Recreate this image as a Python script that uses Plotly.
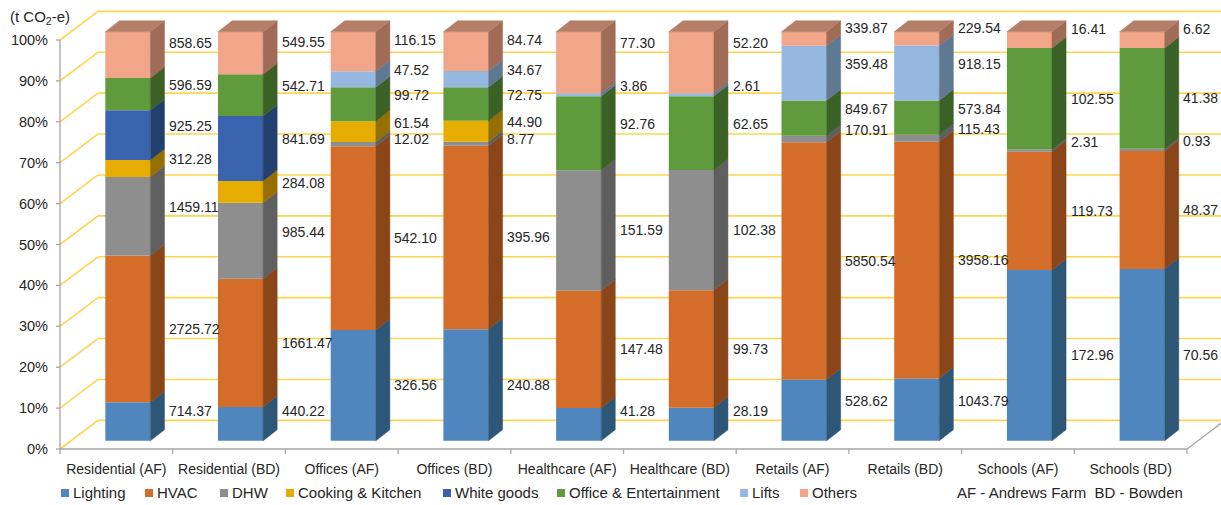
import plotly.graph_objects as go

# ---------------- data ----------------
categories = ["Residential (AF)", "Residential (BD)", "Offices (AF)", "Offices (BD)",
              "Healthcare (AF)", "Healthcare (BD)", "Retails (AF)", "Retails (BD)",
              "Schools (AF)", "Schools (BD)"]
series_names = ["Lighting", "HVAC", "DHW", "Cooking & Kitchen", "White goods",
                "Office & Entertainment", "Lifts", "Others"]

lighting = [714.37, 440.22, 326.56, 240.88, 41.28, 28.19, 528.62, 1043.79, 172.96, 70.56]
hvac = [2725.72, 1661.47, 542.10, 395.96, 147.48, 99.73, 5850.54, 3958.16, 119.73, 48.37]
dhw = [1459.11, 985.44, 12.02, 8.77, 151.59, 102.38, 170.91, 115.43, 2.31, 0.93]
cooking = [312.28, 284.08, 61.54, 44.90, 0, 0, 0, 0, 0, 0]
white_goods = [925.25, 841.69, 0, 0, 0, 0, 0, 0, 0, 0]
office_ent = [596.59, 542.71, 99.72, 72.75, 92.76, 62.65, 849.67, 573.84, 102.55, 41.38]
lifts = [0, 0, 47.52, 34.67, 3.86, 2.61, 359.48, 918.15, 0, 0]
others = [858.65, 549.55, 116.15, 84.74, 77.30, 52.20, 339.87, 229.54, 16.41, 6.62]

# The Retails (AF) column in the reference is drawn with these shares (%)
retails_af_plotted_share = [15.0, 58.0, 1.6, 0, 0, 8.6, 13.4, 3.4]

yticks = [0, 10, 20, 30, 40, 50, 60, 70, 80, 90, 100]

values = [lighting, hvac, dhw, cooking, white_goods, office_ent, lifts, others]

# ---------------- style ----------------
front_colors = ["#4F86BE", "#D36D29", "#8E8E8E", "#E6AC00", "#3A63AD", "#5F9A3C", "#96B7E0", "#F1A689"]
side_colors = ["#2E5677", "#8A4519", "#5F5F5F", "#957000", "#22406E", "#3B6126", "#5F7993", "#A06B57"]
top_colors = ["#6E9CCB", "#DC8A55", "#A9A9A9", "#EBC040", "#6182C0", "#7FAF62", "#B0C9E8", "#B57E67"]
grid_color = "#FFD44F"
axis_gray = "#A6A6A6"
text_color = "#262626"
FONT = "Liberation Sans, Arial, sans-serif"

PX_CAT = 112.7      # pixels per category
PX_PCT = 4.09       # pixels per percent
ML, MT, MB = 53, 0, 48
W, H = 1221, 505
plot_w = W - ML
plot_h = H - MT - MB
zero_px = 449       # pixel row of 0 %

x_lo = -0.5 - (60 - ML) / PX_CAT
x_hi = x_lo + plot_w / PX_CAT
y_lo = -(MT + plot_h - zero_px) / PX_PCT
y_hi = y_lo + plot_h / PX_PCT

FRONT_X0, FRONT_W = -0.098, 0.40
DEPTH_DX, DEPTH_DY = 0.125, 2.7
BASE_OFF = 2.0
WALL_DX, WALL_DY = 0.337, 7.0

n = len(categories)
ns = len(series_names)

# shares per category
share = [[0.0] * n for _ in range(ns)]
for j in range(n):
    col = [values[k][j] for k in range(ns)]
    if categories[j] == "Retails (AF)":
        sh = retails_af_plotted_share
    else:
        tot = sum(col)
        sh = [v / tot * 100 for v in col]
    for k in range(ns):
        share[k][j] = sh[k]

bottom = [[0.0] * n for _ in range(ns)]
for j in range(n):
    acc = 0.0
    for k in range(ns):
        bottom[k][j] = acc
        acc += share[k][j]

fig = go.Figure()

# front faces (bars)
for k in range(ns):
    xs, ys, bs = [], [], []
    for j in range(n):
        if values[k][j] > 0:
            xs.append(j + FRONT_X0 + FRONT_W / 2)
            ys.append(share[k][j])
            bs.append(bottom[k][j] + BASE_OFF)
    fig.add_trace(go.Bar(x=xs, y=ys, base=bs, width=FRONT_W, marker_color=front_colors[k],
                         marker_line_width=0, showlegend=False, hoverinfo="skip", name=series_names[k]))

# side faces
for k in range(ns):
    px_, py_ = [], []
    for j in range(n):
        if values[k][j] > 0:
            x1 = j + FRONT_X0 + FRONT_W
            b = bottom[k][j] + BASE_OFF
            t = b + share[k][j]
            px_ += [x1, x1 + DEPTH_DX, x1 + DEPTH_DX, x1, x1, None]
            py_ += [b, b + DEPTH_DY, t + DEPTH_DY, t, b, None]
    fig.add_trace(go.Scatter(x=px_, y=py_, mode="lines", fill="toself", fillcolor=side_colors[k],
                             line=dict(width=0.5, color=side_colors[k]), showlegend=False, hoverinfo="skip"))

# top faces (of top-most segment)
for j in range(n):
    ktop = max(k for k in range(ns) if values[k][j] > 0)
    x0 = j + FRONT_X0
    x1 = x0 + FRONT_W
    t = bottom[ktop][j] + share[ktop][j] + BASE_OFF
    fig.add_trace(go.Scatter(x=[x0, x1, x1 + DEPTH_DX, x0 + DEPTH_DX, x0],
                             y=[t, t, t + DEPTH_DY, t + DEPTH_DY, t], mode="lines", fill="toself",
                             fillcolor=top_colors[ktop], line=dict(width=0.5, color=top_colors[ktop]),
                             showlegend=False, hoverinfo="skip"))

shapes = []
# back wall gridlines and side-wall diagonals
for p in yticks:
    shapes.append(dict(type="line", xref="x", yref="y", x0=-0.5 + WALL_DX, x1=x_hi + 1,
                       y0=p + WALL_DY, y1=p + WALL_DY, line=dict(color=grid_color, width=1.6), layer="below"))
    shapes.append(dict(type="line", xref="x", yref="y", x0=-0.5, x1=-0.5 + WALL_DX,
                       y0=p, y1=p + WALL_DY, line=dict(color=grid_color, width=1.6), layer="below"))
# floor front edge and right edge
shapes.append(dict(type="line", xref="x", yref="y", x0=-0.5, x1=n - 0.5, y0=0, y1=0,
                   line=dict(color=axis_gray, width=1.3), layer="below"))
shapes.append(dict(type="line", xref="x", yref="y", x0=n - 0.5, x1=n - 0.5 + WALL_DX, y0=0, y1=WALL_DY,
                   line=dict(color=axis_gray, width=1.3), layer="below"))
# y axis line and ticks
shapes.append(dict(type="line", xref="x", yref="y", x0=-0.5, x1=-0.5, y0=0, y1=100,
                   line=dict(color=axis_gray, width=1.3), layer="below"))
for p in yticks:
    shapes.append(dict(type="line", xref="x", yref="y", x0=-0.5 - 4 / PX_CAT, x1=-0.5, y0=p, y1=p,
                       line=dict(color=axis_gray, width=1.3)))
# x ticks at category boundaries
for j in range(n + 1):
    shapes.append(dict(type="line", xref="x", yref="y", x0=j - 0.5, x1=j - 0.5, y0=0, y1=-5 / PX_PCT,
                       line=dict(color=axis_gray, width=1.3)))

annotations = []
# data labels
GAP = 4.0
for j in range(n):
    ks = [k for k in range(ns) if values[k][j] > 0]
    ktop = ks[-1]
    pos = {}
    for k in ks:
        c = bottom[k][j] + share[k][j] / 2
        p = c if share[k][j] >= 20 else c + 2.2
        if k == ktop:
            p = max(c + 2.7, 97.3)
        pos[k] = max(p, 7.3)
    order = sorted(ks, key=lambda k: -pos[k])
    for i in range(1, len(order)):
        if pos[order[i]] > pos[order[i - 1]] - GAP:
            pos[order[i]] = pos[order[i - 1]] - GAP
    for k in ks:
        annotations.append(dict(x=j + 0.45, y=pos[k] + BASE_OFF, xref="x", yref="y",
                                text=f"{values[k][j]:.2f}", showarrow=False, xanchor="left",
                                yanchor="middle", font=dict(size=14, color=text_color, family=FONT)))


def pxx(px):
    return (px - ML) / plot_w


def pxy(py):
    return (MT + plot_h - py) / plot_h


# unit title
annotations.append(dict(x=pxx(8), y=pxy(18), xref="paper", yref="paper", text="(t CO<sub>2</sub>-e)",
                        showarrow=False, xanchor="left", yanchor="middle",
                        font=dict(size=15, color=text_color, family=FONT)))

# legend (manual)
legend_left_px = [61, 145, 220, 286, 443, 557, 740, 800]
LEG_Y = 493
for k in range(ns):
    lx = legend_left_px[k]
    shapes.append(dict(type="rect", xref="paper", yref="paper", x0=pxx(lx), x1=pxx(lx + 8),
                       y0=pxy(LEG_Y + 4), y1=pxy(LEG_Y - 4), fillcolor=front_colors[k], line=dict(width=0)))
    annotations.append(dict(x=pxx(lx + 10), y=pxy(LEG_Y), xref="paper", yref="paper", text=series_names[k],
                            showarrow=False, xanchor="left", yanchor="middle",
                            font=dict(size=15, color=text_color, family=FONT)))
annotations.append(dict(x=pxx(955), y=pxy(LEG_Y), xref="paper", yref="paper",
                        text="AF - Andrews Farm\u00a0\u00a0BD - Bowden", showarrow=False,
                        xanchor="left", yanchor="middle", font=dict(size=15, color=text_color, family=FONT)))

fig.update_layout(
    width=W, height=H, autosize=False,
    margin=dict(l=ML, r=0, t=MT, b=MB, pad=0),
    paper_bgcolor="white", plot_bgcolor="white",
    barmode="overlay", showlegend=False,
    font=dict(family=FONT, color=text_color, size=14),
    shapes=shapes, annotations=annotations,
    xaxis=dict(range=[x_lo, x_hi], tickmode="array", tickvals=list(range(n)), ticktext=categories,
               showgrid=False, zeroline=False, showline=False, ticks="",
               tickfont=dict(size=14, color=text_color, family=FONT), ticklabelstandoff=2),
    yaxis=dict(range=[y_lo, y_hi], tickmode="array", tickvals=yticks, ticktext=[f"{v}%" for v in yticks],
               showgrid=False, zeroline=False, showline=False, ticks="",
               tickfont=dict(size=14.5, color=text_color, family=FONT), ticklabelstandoff=4),
)

fig.write_html("out.html")
